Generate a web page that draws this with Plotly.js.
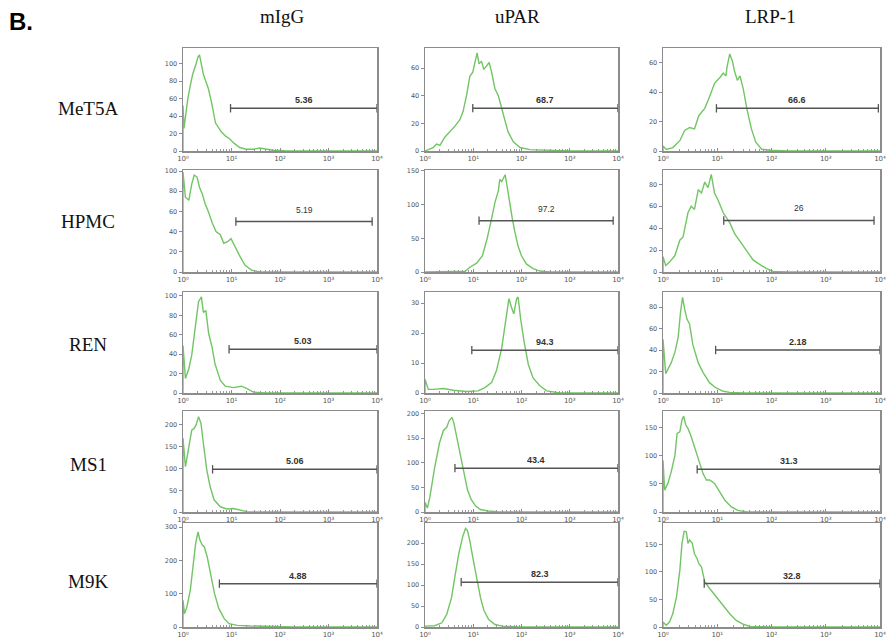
<!DOCTYPE html>
<html><head><meta charset="utf-8">
<script src="https://cdn.plot.ly/plotly-3.0.1.min.js"></script>
<style>html,body{margin:0;padding:0;background:#fff}#chart{width:890px;height:641px}</style>
</head><body><div id="chart"></div>
<script>
const cellLines = ["MeT5A","HPMC","REN","MS1","M9K"];
const antibodies = ["mIgG","uPAR","LRP-1"];
const xTickValues = [1,10,100,1000,10000];
const xTickLabels = ["10\u2070","10\u00b9","10\u00b2","10\u00b3","10\u2074"];

// histograms: [log10 fluorescence, event count]
const hist_MeT5A_mIgG = [[0,0],[0,52],[0.02,26],[0.05,40],[0.1,60],[0.15,75],[0.2,88],[0.27,100],[0.31,108],[0.34,110],[0.38,100],[0.42,88],[0.47,80],[0.52,72],[0.58,58],[0.63,42],[0.67,32],[0.72,28],[0.79,22],[0.88,17],[0.96,14],[1.05,9],[1.17,4],[1.3,2],[1.45,2],[1.58,3.5],[1.7,2],[1.85,0.8],[2.1,0.3],[2.5,0.1],[3,0],[4,0]];
const hist_MeT5A_uPAR = [[0,0],[0.08,1],[0.17,2.5],[0.24,5],[0.31,4],[0.41,10],[0.52,14],[0.62,18],[0.72,22.5],[0.79,28.7],[0.86,40],[0.93,54],[0.99,57],[1.03,64],[1.08,71],[1.12,63],[1.17,65],[1.22,59],[1.28,62],[1.33,64],[1.38,57],[1.45,45],[1.52,40],[1.62,27],[1.72,14],[1.83,6.6],[1.97,2.5],[2.17,1],[2.6,0.2],[3,0],[4,0]];
const hist_MeT5A_LRP1 = [[0,0],[0,3.5],[0.06,1],[0.18,2.3],[0.31,7],[0.4,14],[0.49,16],[0.58,15],[0.66,24],[0.71,26.5],[0.77,29],[0.86,37],[0.95,46],[1.05,50],[1.11,53],[1.16,51],[1.18,57],[1.23,66],[1.28,61],[1.32,54],[1.37,48],[1.42,51],[1.48,42],[1.55,28],[1.63,15],[1.71,6],[1.82,1.2],[1.97,0.5],[2.3,0],[4,0]];
const hist_HPMC_mIgG = [[0,0],[0,99],[0.05,74],[0.12,71],[0.18,87],[0.23,96],[0.29,94],[0.34,84],[0.4,77],[0.46,67],[0.53,59],[0.6,49],[0.68,40],[0.77,37],[0.84,28.5],[0.92,30],[0.99,33],[1.08,24],[1.18,15],[1.28,6.7],[1.42,1.7],[1.59,0],[4,0]];
const hist_HPMC_uPAR = [[0,0],[0.5,0.5],[0.83,1],[0.93,7],[1.07,13],[1.19,24],[1.29,50],[1.38,79],[1.45,103],[1.52,120],[1.55,137],[1.59,134],[1.62,139],[1.66,144],[1.69,132],[1.74,108],[1.81,79],[1.86,60],[1.93,38],[2.0,24],[2.1,12],[2.24,5],[2.38,1.4],[2.59,0],[4,0]];
const hist_HPMC_LRP1 = [[0,0],[0,14],[0.05,6],[0.12,9],[0.22,15],[0.31,29],[0.37,32],[0.42,46],[0.46,54],[0.52,60],[0.58,57],[0.65,75],[0.71,72],[0.77,82],[0.83,77],[0.89,89],[0.95,72],[1.02,65],[1.11,54],[1.23,45],[1.32,35],[1.42,28],[1.54,20],[1.66,11],[1.78,7],[1.91,3],[2.03,0.6],[2.3,0],[4,0]];
const hist_REN_mIgG = [[0,0],[0,49],[0.05,15],[0.12,25],[0.18,39],[0.25,65],[0.32,94],[0.38,99],[0.42,83],[0.47,85],[0.53,61],[0.6,47],[0.66,30],[0.77,13],[0.87,7],[1.04,5.5],[1.21,7],[1.32,4.5],[1.45,1],[1.7,0],[4,0]];
const hist_REN_uPAR = [[0,0],[0,4.6],[0.07,1.2],[0.17,1.2],[0.38,1.5],[0.59,0.9],[0.86,0.5],[1.1,0.7],[1.24,1.8],[1.38,3.5],[1.48,7.4],[1.59,15],[1.68,25],[1.74,31.5],[1.79,28.7],[1.84,26.4],[1.9,31.5],[1.93,32],[1.98,25],[2.05,17.5],[2.14,9.6],[2.24,5],[2.38,2.4],[2.52,0.7],[2.8,0],[4,0]];
const hist_REN_LRP1 = [[0,0],[0,50],[0.05,18],[0.09,22],[0.15,28],[0.22,38],[0.28,52],[0.32,74],[0.36,89],[0.4,78],[0.44,69],[0.49,64],[0.55,45],[0.65,28],[0.74,19],[0.86,9.4],[0.98,4.7],[1.11,1.6],[1.23,0.6],[1.5,0],[4,0]];
const hist_MS1_mIgG = [[0,0],[0,170],[0.05,104],[0.12,150],[0.18,188],[0.23,192],[0.27,200],[0.32,219],[0.37,204],[0.42,158],[0.49,97],[0.56,58],[0.64,28],[0.77,12],[0.9,7],[1.04,8],[1.18,4.6],[1.32,0.8],[1.6,0],[4,0]];
const hist_MS1_uPAR = [[0,0],[0,20],[0.05,8],[0.1,30],[0.2,90],[0.3,140],[0.38,165],[0.45,172],[0.5,185],[0.56,192],[0.6,180],[0.66,150],[0.72,120],[0.8,80],[0.88,45],[0.96,25],[1.05,12],[1.15,5],[1.3,2],[1.5,0.5],[2,0],[4,0]];
const hist_MS1_LRP1 = [[0,0],[0,92],[0.03,39],[0.09,51],[0.15,71],[0.22,101],[0.26,140],[0.31,143],[0.35,164],[0.38,171],[0.42,155],[0.46,149],[0.52,134],[0.58,116],[0.68,89],[0.74,68],[0.8,57],[0.86,57],[0.95,51],[1.05,36],[1.14,21],[1.26,9],[1.38,3],[1.54,0],[4,0]];
const hist_M9K_mIgG = [[0,0],[0,80],[0.03,40],[0.08,60],[0.15,110],[0.21,180],[0.26,250],[0.31,285],[0.35,260],[0.4,245],[0.44,240],[0.5,210],[0.57,160],[0.65,100],[0.74,55],[0.85,25],[0.95,10],[1.12,5],[1.4,3],[1.89,1],[2.3,0],[4,0]];
const hist_M9K_uPAR = [[0,0],[0,2],[0.2,3],[0.35,10],[0.45,30],[0.55,70],[0.62,120],[0.7,175],[0.78,215],[0.84,235],[0.88,230],[0.93,205],[1.0,160],[1.08,110],[1.15,70],[1.22,40],[1.32,18],[1.45,6],[1.6,2],[1.9,0.5],[2.3,0],[4,0]];
const hist_M9K_LRP1 = [[0,0],[0,9],[0.06,3],[0.12,9],[0.18,24],[0.25,55],[0.31,103],[0.35,152],[0.39,174],[0.43,173],[0.46,152],[0.49,158],[0.54,152],[0.58,133],[0.63,124],[0.66,115],[0.71,109],[0.77,82],[0.86,70],[0.98,55],[1.11,39],[1.23,24],[1.35,12],[1.48,5],[1.6,1],[2,0],[4,0]];

// y-axis extent and tick step per panel [row][col]
const yAxisMax = [[118,74.5,70],[101,151,93],[104,33.7,94],[232,205,180],[312,248,189]];
const yTickStep = [[20,20,20],[20,50,20],[20,10,20],[50,50,50],[100,50,50]];

// marker gates: start/end in log10 fluorescence, height in counts, % label
const gateStartLog = [[0.98,0.99,0.985],[1.09,1.12,1.12],[0.95,0.97,0.97],[0.61,0.62,0.63],[0.75,0.75,0.76]];
const gateEndLog = [[4,4,3.97],[3.9,3.9,3.89],[4,4,4],[4,4,4],[4,4,4]];
const gateLevel = [[49,31,29],[50,76,47],[45,14.3,40],[98,89,76],[130,107,79]];
const gateLabel = [["5.36","68.7","66.6"],["5.19","97.2","26"],["5.03","94.3","2.18"],["5.06","43.4","31.3"],["4.88","82.3","32.8"]];

const histograms = [
  [hist_MeT5A_mIgG, hist_MeT5A_uPAR, hist_MeT5A_LRP1],
  [hist_HPMC_mIgG, hist_HPMC_uPAR, hist_HPMC_LRP1],
  [hist_REN_mIgG, hist_REN_uPAR, hist_REN_LRP1],
  [hist_MS1_mIgG, hist_MS1_uPAR, hist_MS1_LRP1],
  [hist_M9K_mIgG, hist_M9K_uPAR, hist_M9K_LRP1]
];

// ---- layout geometry (pixels) ----
const W = 890, H = 641;
const colPx = [[183,377],[425,618],[663,880]];
const rowPx = [[48,151],[170,272],[292,393],[411,512],[523,627]];
const rowLabelY = [108,221,344,464,581];
const colHeaderX = [282,517,770];

const traces = [];
const layout = {
  width: W, height: H,
  margin: {l:0, r:0, t:0, b:0},
  paper_bgcolor: '#fff', plot_bgcolor: '#fff',
  showlegend: false,
  annotations: [],
  font: {family: 'Liberation Sans, Arial, sans-serif'}
};

const tickFont = {family: 'DejaVu Sans, Liberation Sans, sans-serif', size: 6.5, color: '#555'};
const xTickFont = {family: 'DejaVu Sans, Liberation Sans, sans-serif', size: 7, color: '#555'};
const frameColor = '#8c8c8c';

for (let r = 0; r < cellLines.length; r++) {
  for (let c = 0; c < antibodies.length; c++) {
    const k = r * 3 + c + 1;
    const xa = k === 1 ? 'xaxis' : 'xaxis' + k;
    const ya = k === 1 ? 'yaxis' : 'yaxis' + k;
    const xr = k === 1 ? 'x' : 'x' + k;
    const yr = k === 1 ? 'y' : 'y' + k;
    const pts = histograms[r][c];
    traces.push({
      type: 'scatter', mode: 'lines', xaxis: xr, yaxis: yr,
      x: pts.map(p => Math.pow(10, p[0])), y: pts.map(p => p[1]),
      line: {color: '#72c564', width: 1.4}, hoverinfo: 'skip'
    });
    traces.push({
      type: 'scatter', mode: 'lines+markers', xaxis: xr, yaxis: yr,
      x: [Math.pow(10, gateStartLog[r][c]), Math.pow(10, gateEndLog[r][c])],
      y: [gateLevel[r][c], gateLevel[r][c]],
      line: {color: '#555', width: 1.5},
      marker: {symbol: 'line-ns-open', size: 6, color: '#555', line: {color: '#555', width: 1.3}},
      cliponaxis: false, hoverinfo: 'skip'
    });
    layout[xa] = {
      type: 'log', range: [0, 4], anchor: yr,
      domain: [colPx[c][0] / W, colPx[c][1] / W],
      tickvals: xTickValues, ticktext: xTickLabels,
      ticks: 'inside', ticklen: 3, tickcolor: frameColor, tickfont: xTickFont,
      minor: {ticks: 'inside', ticklen: 2, tickcolor: '#999', dtick: 'D1'},
      showline: true, mirror: true, linecolor: frameColor, linewidth: 1.5,
      showgrid: false, zeroline: false, fixedrange: true
    };
    layout[ya] = {
      range: [0, yAxisMax[r][c]], anchor: xr,
      domain: [1 - rowPx[r][1] / H, 1 - rowPx[r][0] / H],
      dtick: yTickStep[r][c], tick0: 0,
      ticks: 'outside', ticklen: 3, tickcolor: frameColor, tickfont: tickFont,
      showline: true, mirror: true, linecolor: frameColor, linewidth: 1.5,
      showgrid: false, zeroline: false, fixedrange: true
    };
    const plain = (r === 1);
    layout.annotations.push({
      xref: xr, yref: yr,
      x: (gateStartLog[r][c] + gateEndLog[r][c]) / 2, y: gateLevel[r][c],
      text: gateLabel[r][c], showarrow: false, yanchor: 'bottom',
      yshift: plain ? 5 : 1,
      font: {family: 'Liberation Sans, Arial, sans-serif', size: plain ? 8.5 : 9,
             color: '#333', weight: plain ? 'normal' : 'bold'}
    });
  }
}

// row labels
cellLines.forEach((name, r) => {
  layout.annotations.push({
    xref: 'paper', yref: 'paper', x: 88 / W, y: 1 - rowLabelY[r] / H,
    text: name, showarrow: false, xanchor: 'center', yanchor: 'middle',
    font: {family: 'Liberation Serif, Times New Roman, serif', size: 19, color: '#111'}
  });
});
// column headers
antibodies.forEach((name, c) => {
  layout.annotations.push({
    xref: 'paper', yref: 'paper', x: colHeaderX[c] / W, y: 1 - 17 / H,
    text: name, showarrow: false, xanchor: 'center', yanchor: 'middle',
    font: {family: 'Liberation Serif, Times New Roman, serif', size: 19, color: '#111'}
  });
});
// panel letter
layout.annotations.push({
  xref: 'paper', yref: 'paper', x: 7 / W, y: 1 - 21 / H,
  text: '<b>B.</b>', showarrow: false, xanchor: 'left', yanchor: 'middle',
  font: {family: 'Liberation Sans, Arial, sans-serif', size: 24, color: '#000'}
});

Plotly.newPlot('chart', traces, layout, {staticPlot: true, displayModeBar: false});
</script>
</body></html>
